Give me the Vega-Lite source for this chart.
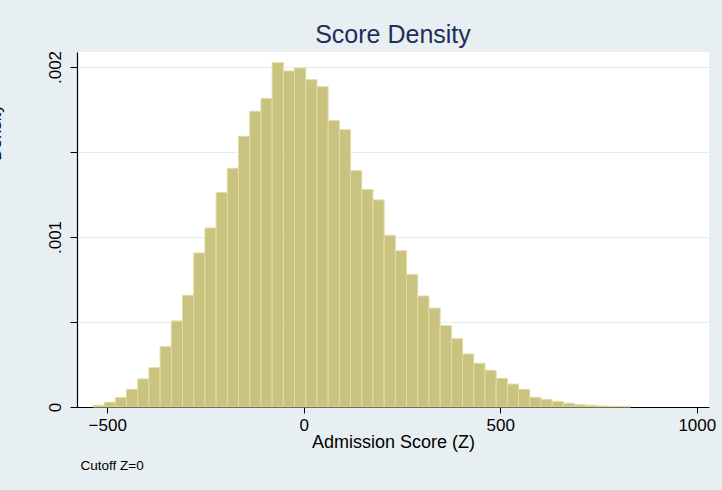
{
  "$schema": "https://vega.github.io/schema/vega-lite/v6.json",
  "width": 632,
  "height": 355,
  "autosize": "none",
  "padding": {"left": 77, "top": 52, "right": 13, "bottom": 83},
  "background": "#e8eff2",
  "view": {"fill": "white", "stroke": null},
  "title": {"text": "Score Density", "fontSize": 25, "font": "Liberation Sans", "fontWeight": "normal", "color": "#1e2d5a", "anchor": "middle", "offset": 2},
  "data": {"values": [
    {"x0": -536.5, "x1": -508.0, "density": 0.00001},
    {"x0": -508.0, "x1": -479.5, "density": 0.0000275},
    {"x0": -479.5, "x1": -451.0, "density": 0.000055},
    {"x0": -451.0, "x1": -422.5, "density": 0.000104},
    {"x0": -422.5, "x1": -394.0, "density": 0.000165},
    {"x0": -394.0, "x1": -365.5, "density": 0.000231},
    {"x0": -365.5, "x1": -337.0, "density": 0.000355},
    {"x0": -337.0, "x1": -308.5, "density": 0.000506},
    {"x0": -308.5, "x1": -280.0, "density": 0.000657},
    {"x0": -280.0, "x1": -251.5, "density": 0.000906},
    {"x0": -251.5, "x1": -223.0, "density": 0.001053},
    {"x0": -223.0, "x1": -194.5, "density": 0.001261},
    {"x0": -194.5, "x1": -166.0, "density": 0.001404},
    {"x0": -166.0, "x1": -137.5, "density": 0.001592},
    {"x0": -137.5, "x1": -109.0, "density": 0.001739},
    {"x0": -109.0, "x1": -80.5, "density": 0.001814},
    {"x0": -80.5, "x1": -52.0, "density": 0.002025},
    {"x0": -52.0, "x1": -23.5, "density": 0.001976},
    {"x0": -23.5, "x1": 5.0, "density": 0.001994},
    {"x0": 5.0, "x1": 33.5, "density": 0.001925},
    {"x0": 33.5, "x1": 62.0, "density": 0.001884},
    {"x0": 62.0, "x1": 90.5, "density": 0.001684},
    {"x0": 90.5, "x1": 119.0, "density": 0.001631},
    {"x0": 119.0, "x1": 147.5, "density": 0.00139},
    {"x0": 147.5, "x1": 176.0, "density": 0.00128},
    {"x0": 176.0, "x1": 204.5, "density": 0.001218},
    {"x0": 204.5, "x1": 233.0, "density": 0.00101},
    {"x0": 233.0, "x1": 261.5, "density": 0.000919},
    {"x0": 261.5, "x1": 290.0, "density": 0.00078},
    {"x0": 290.0, "x1": 318.5, "density": 0.000653},
    {"x0": 318.5, "x1": 347.0, "density": 0.000582},
    {"x0": 347.0, "x1": 375.5, "density": 0.000478},
    {"x0": 375.5, "x1": 404.0, "density": 0.000402},
    {"x0": 404.0, "x1": 432.5, "density": 0.000312},
    {"x0": 432.5, "x1": 461.0, "density": 0.000257},
    {"x0": 461.0, "x1": 489.5, "density": 0.000216},
    {"x0": 489.5, "x1": 518.0, "density": 0.000169},
    {"x0": 518.0, "x1": 546.5, "density": 0.000135},
    {"x0": 546.5, "x1": 575.0, "density": 0.000104},
    {"x0": 575.0, "x1": 603.5, "density": 0.000057},
    {"x0": 603.5, "x1": 632.0, "density": 0.000045},
    {"x0": 632.0, "x1": 660.5, "density": 0.0000335},
    {"x0": 660.5, "x1": 689.0, "density": 0.000022},
    {"x0": 689.0, "x1": 717.5, "density": 0.0000135},
    {"x0": 717.5, "x1": 746.0, "density": 0.00001},
    {"x0": 746.0, "x1": 774.5, "density": 0.000006},
    {"x0": 774.5, "x1": 803.0, "density": 0.000004},
    {"x0": 803.0, "x1": 831.5, "density": 0.000004}
  ]},
  "layer": [
    {
      "mark": {"type": "bar", "fill": "#cac27f", "stroke": "#e2dba4", "strokeWidth": 1},
      "encoding": {
        "x": {
          "field": "x0", "type": "quantitative",
          "scale": {"domain": [-577, 1031], "nice": false, "zero": false},
          "axis": {
            "values": [-500, 0, 500, 1000],
            "title": "Admission Score (Z)",
            "titleFont": "Liberation Sans", "titleFontSize": 18, "titleFontWeight": "normal", "titleColor": "#000000", "titlePadding": 0,
            "labelFont": "Liberation Sans", "labelFontSize": 17, "labelColor": "#000000", "labelPadding": 4,
            "domainColor": "#000000", "domainWidth": 1.2, "tickColor": "#000000", "tickSize": 6,
            "grid": false, "format": "d"
          }
        },
        "x2": {"field": "x1"},
        "y": {
          "field": "density", "type": "quantitative",
          "scale": {"domain": [0, 0.002088], "nice": false},
          "axis": {
            "values": [0, 0.0005, 0.001, 0.0015, 0.002],
            "labelExpr": "datum.value == 0 ? '0' : (abs(datum.value - 0.001) < 1e-9 ? '.001' : (abs(datum.value - 0.002) < 1e-9 ? '.002' : ''))",
            "labelAngle": 270, "labelAlign": "center", "labelBaseline": "bottom",
            "labelFont": "Liberation Sans", "labelFontSize": 17, "labelColor": "#000000", "labelPadding": 6,
            "title": "Density",
            "titleFont": "Liberation Sans", "titleFontSize": 17, "titleFontWeight": "normal", "titleColor": "#000000",
            "titleAngle": 270, "titleBaseline": "bottom", "titleAlign": "center", "titleX": -73, "titleY": 80,
            "domainColor": "#000000", "domainWidth": 1.2, "tickColor": "#000000", "tickSize": 7,
            "grid": true, "gridColor": "#e3ecf1", "gridWidth": 1.2
          }
        },
        "y2": {"datum": 0}
      }
    },
    {
      "data": {"values": [{"note": "Cutoff Z=0", "nx": -568, "ny": -0.000345}]},
      "mark": {"type": "text", "align": "left", "baseline": "middle", "font": "Liberation Sans", "fontSize": 13.5, "color": "#000000", "clip": false},
      "encoding": {
        "x": {"field": "nx", "type": "quantitative"},
        "y": {"field": "ny", "type": "quantitative"},
        "text": {"field": "note"}
      }
    }
  ]
}
